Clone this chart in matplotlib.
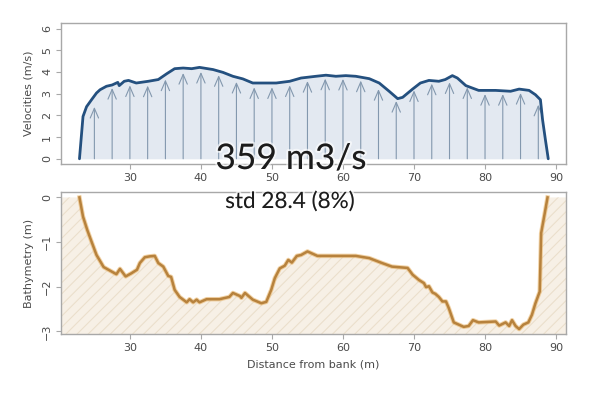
import numpy as np
import matplotlib
matplotlib.use("Agg")
import matplotlib.pyplot as plt
import matplotlib.patheffects as pe

# ---------------- data ----------------
vel_x = [22.9, 23.4, 23.9, 24.6, 25.3, 25.8, 26.7, 27.5, 28.3, 28.5, 29.2, 29.8,
         30.9, 32.6, 34.0, 35.2, 36.3, 37.5, 38.7, 39.8, 41.7, 43.1, 44.5, 45.9,
         47.3, 49.2, 50.6, 52.5, 54.1, 56.2, 57.6, 59.0, 60.4, 61.8, 63.7, 65.1,
         66.5, 67.7, 68.4, 69.8, 70.9, 72.1, 73.5, 74.4, 75.4, 76.1, 77.3, 79.1,
         81.5, 83.6, 84.8, 86.2, 87.1, 87.8, 88.1, 88.5, 88.9]
vel_v = [0.0, 1.95, 2.4, 2.72, 3.03, 3.18, 3.34, 3.4, 3.52, 3.37, 3.57, 3.61,
         3.49, 3.57, 3.65, 3.92, 4.15, 4.18, 4.15, 4.21, 4.11, 3.98, 3.80, 3.68,
         3.49, 3.49, 3.49, 3.57, 3.72, 3.80, 3.85, 3.80, 3.83, 3.80, 3.69, 3.49,
         3.11, 2.77, 2.83, 3.21, 3.49, 3.61, 3.57, 3.65, 3.83, 3.72, 3.37, 3.15,
         3.15, 3.11, 3.21, 3.15, 2.95, 2.72, 1.80, 0.88, 0.0]

arrow_x = [25, 27.5, 30, 32.5, 35, 37.5, 40, 42.5, 45, 47.5, 50, 52.5, 55,
           57.5, 60, 62.5, 65, 67.5, 70, 72.5, 75, 77.5, 80, 82.5, 85, 87.5]
arrow_h = [2.39, 3.26, 3.38, 3.37, 3.65, 3.95, 4.0, 3.85, 3.54, 3.29, 3.29, 3.38, 3.58,
           3.69, 3.68, 3.6, 3.21, 2.66, 3.15, 3.46, 3.52, 3.29, 2.98, 2.98, 3.03, 2.49]

bat_x = [22.9, 23.4, 24.0, 24.6, 25.3, 25.6, 26.3, 27.2, 28.1, 28.6, 29.4, 30.2,
         31.0, 31.4, 32.1, 32.8, 33.5, 34.0, 34.7, 35.4, 35.8, 36.3, 37.0, 38.0,
         38.4, 38.9, 39.4, 39.8, 40.8, 42.6, 44.0, 44.5, 45.5, 45.7, 46.2, 47.3,
         48.5, 49.2, 49.9, 50.4, 51.1, 51.8, 52.3, 52.8, 53.5, 54.1, 55.0, 56.4,
         59.0, 61.8, 63.7, 65.5, 66.9, 69.1, 69.8, 70.7, 71.4, 71.7, 72.1, 72.6,
         73.0, 73.5, 74.0, 74.5, 74.9, 75.6, 76.3, 77.0, 77.7, 78.3, 79.1, 81.5,
         82.0, 82.9, 83.4, 83.8, 84.3, 84.8, 85.4, 86.1, 86.6, 87.1, 87.7, 87.9,
         88.4, 88.8]
bat_y = [0.0, -0.43, -0.73, -0.99, -1.29, -1.37, -1.56, -1.64, -1.72, -1.60, -1.77, -1.70,
         -1.62, -1.47, -1.34, -1.32, -1.31, -1.47, -1.55, -1.76, -1.78, -2.07, -2.23, -2.35,
         -2.28, -2.35, -2.29, -2.35, -2.28, -2.28, -2.23, -2.14, -2.21, -2.25, -2.14, -2.29,
         -2.37, -2.34, -2.07, -1.81, -1.59, -1.53, -1.40, -1.46, -1.31, -1.29, -1.21, -1.31,
         -1.31, -1.31, -1.36, -1.47, -1.55, -1.58, -1.73, -1.85, -1.92, -2.01, -1.99, -2.13,
         -2.16, -2.23, -2.33, -2.33, -2.48, -2.80, -2.85, -2.90, -2.88, -2.75, -2.80, -2.78,
         -2.87, -2.80, -2.88, -2.75, -2.88, -2.95, -2.85, -2.80, -2.63, -2.37, -2.11, -0.80,
         -0.36, 0.0]

x_ticks = [30, 40, 50, 60, 70, 80, 90]
v_ticks = [0, 1, 2, 3, 4, 5, 6]
b_ticks = [0, -1, -2, -3]
discharge_text = "359 m3/s"
std_text = "std 28.4 (8%)"

# ---------------- figure ----------------
plt.rcParams['font.family'] = ['DejaVu Sans']
plt.rcParams['hatch.linewidth'] = 0.8
fig = plt.figure(figsize=(6.06, 3.97), dpi=100)

XLIM = (20.3, 91.4)
box_col = '#a8a8a8'
lab_col = '#4a4a4a'

def style(ax):
    for s in ax.spines.values():
        s.set_color(box_col)
        s.set_linewidth(1.0)
    ax.tick_params(direction='out', length=3.5, width=0.8, color=box_col,
                   labelcolor=lab_col, labelsize=8, pad=3)
    for lab in ax.get_yticklabels():
        lab.set_rotation(90)
        lab.set_va('center')

ax1 = fig.add_axes([61/606, 1-164/397, 505/606, 140.7/397])
ax1.fill_between(vel_x, 0, vel_v, color='#e3e9f1', lw=0, zorder=1)
for xa, ha in zip(arrow_x, arrow_h):
    ax1.annotate('', xy=(xa, ha), xytext=(xa, 0),
                 arrowprops=dict(arrowstyle='->,head_length=0.7,head_width=0.3',
                                 color='#8398ae', lw=0.8, shrinkA=0, shrinkB=0),
                 zorder=2)
ax1.plot(vel_x, vel_v, color='#24507f', lw=2.0, zorder=3, solid_capstyle='round')
ax1.set_xlim(*XLIM)
ax1.set_ylim(-0.24, 6.24)
ax1.set_xticks(x_ticks)
ax1.set_yticks(v_ticks)
ax1.set_ylabel('Velocities (m/s)', fontsize=8, color=lab_col, labelpad=6)
style(ax1)

ax2 = fig.add_axes([61/606, 1-334/397, 505/606, 141.7/397])
fx = [XLIM[0]] + bat_x + [XLIM[1]]
fy = [0.0] + bat_y + [0.0]
ax2.fill_between(fx, -3.5, fy, facecolor='#f7f0e6', edgecolor='#ebdfcc',
                 hatch='///', lw=0, zorder=1)
ax2.plot(bat_x, bat_y, color='#e9b56a', lw=3.2, alpha=0.6, zorder=2)
ax2.plot(bat_x, bat_y, color='#b7823d', lw=1.8, zorder=3)
ax2.set_xlim(*XLIM)
ax2.set_ylim(-3.06, 0.115)
ax2.set_xticks(x_ticks)
ax2.set_yticks(b_ticks)
ax2.set_yticklabels(['0', '\u22121', '\u22122', '\u22123'])
ax2.set_ylabel('Bathymetry (m)', fontsize=8, color=lab_col, labelpad=6)
ax2.set_xlabel('Distance from bank (m)', fontsize=8, color=lab_col, labelpad=5)
style(ax2)

fx_ = [pe.withStroke(linewidth=3, foreground=(1, 1, 1, 0.6))]
fig.text(291/606, 1-169/397, discharge_text, fontsize=25.4, family='Lato',
         color='#1c1c1c', ha='center', va='baseline', path_effects=fx_)
fig.text(290/606, 1-208/397, std_text, fontsize=16.2, family='Lato',
         color='#1c1c1c', ha='center', va='baseline', path_effects=fx_)

fig.savefig('out.png', dpi=100)
